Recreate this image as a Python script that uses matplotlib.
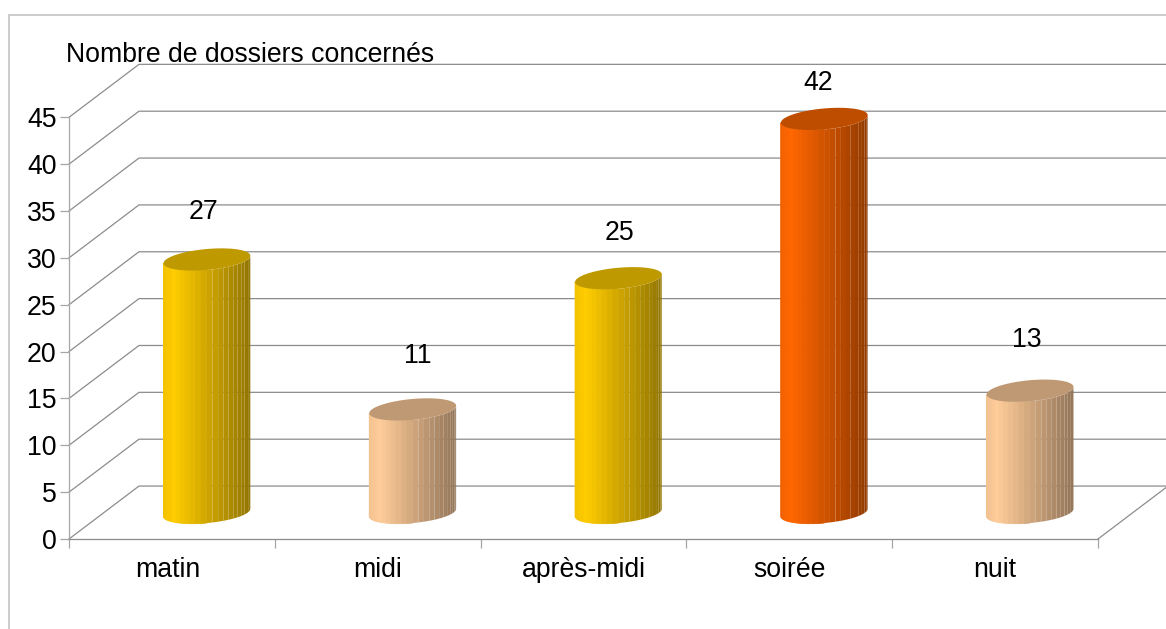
import matplotlib

matplotlib.use("Agg")
import matplotlib.pyplot as plt
from matplotlib.lines import Line2D
from matplotlib.transforms import ScaledTranslation
import numpy as np

W, H = 1166, 629

categories = ["matin", "midi", "après-midi", "soirée", "nuit"]
values = [27, 11, 25, 42, 13]
colors = ["#ffcc00", "#ffcc99", "#ffcc00", "#ff6600", "#ffcc99"]
y_ticks = [0, 5, 10, 15, 20, 25, 30, 35, 40, 45]
y_title = "Nombre de dossiers concernés"

# value label placement, pixels from the centre of the cylinder top
label_offsets = [(-3, 48), (5, 53), (1, 45), (-6, 36), (-3, 51)]

# fake 3d depth, in axis units
DEPTH_X = 0.34
DEPTH_Y = 5.65
# cylinder ellipse, in axis units
RADIUS = 0.211
MINOR = 1.12
SKEW = 0.4
N_STRIPS = 24
FONT = 19.2

GRID = "#8c8c8c"
AXIS = "#a6a6a6"

plt.rcParams["font.family"] = ["Liberation Sans", "DejaVu Sans"]


def ellipse(cx, cy, t):
    return cx + RADIUS * np.cos(t), cy + SKEW * np.cos(t) + MINOR * np.sin(t)


def shade(base, k):
    rgb = np.array(matplotlib.colors.to_rgb(base)) * k
    return tuple(rgb)


def draw_cylinder(ax, cx, base_y, value, color):
    top_y = base_y + value
    # body, strips around the front half
    edges = np.linspace(np.pi, 2 * np.pi, N_STRIPS + 1)
    for a, b in zip(edges[:-1], edges[1:]):
        ts = np.linspace(a, b, 6)
        xb, yb = ellipse(cx, base_y, ts)
        xt, yt = ellipse(cx, top_y, ts[::-1])
        pos = (np.cos((a + b) / 2) + 1) / 2
        k = np.interp(pos, [0, 0.13, 1], [0.95, 1.0, 0.57])
        # seams only show on the shaded side
        lw = 0.6 if pos < 0.5 else 0
        ax.fill(
            np.r_[xb, xt],
            np.r_[yb, yt],
            color=shade(color, k),
            lw=lw,
            zorder=3,
            clip_on=False,
        )
    # top cap
    ts = np.linspace(0, 2 * np.pi, 120)
    xt, yt = ellipse(cx, top_y, ts)
    ax.fill(xt, yt, color=shade(color, 0.75), lw=0, zorder=4, clip_on=False)


fig = plt.figure(figsize=(W / 100, H / 100), dpi=100)
ax = fig.add_axes(
    [69 / W, (H - 539) / H, 1029 / W, (539 - 117.3) / H], facecolor="none"
)
ax.set_xlim(0, len(categories))
ax.set_ylim(0, 45)

# outer chart frame, runs off the page on the right and bottom
fig.add_artist(Line2D([9 / W, 9 / W], [0, 1 - 14.5 / H], color="#cccccc", lw=1.4))
fig.add_artist(Line2D([9 / W, 1], [1 - 14.5 / H, 1 - 14.5 / H], color="#cccccc", lw=1.4))

# back wall and side wall lines
for v in y_ticks:
    ax.plot(
        [0, DEPTH_X, len(categories) + DEPTH_X],
        [v, v + DEPTH_Y, v + DEPTH_Y],
        color=GRID,
        lw=0.9,
        zorder=1,
        clip_on=False,
    )
# floor edge on the right
ax.plot(
    [len(categories), len(categories) + DEPTH_X],
    [0, DEPTH_Y],
    color=GRID,
    lw=0.9,
    zorder=1,
    clip_on=False,
)

for i, (val, col) in enumerate(zip(values, colors)):
    cx = i + 0.5 + DEPTH_X / 2
    base_y = DEPTH_Y / 2
    draw_cylinder(ax, cx, base_y, val, col)
    ax.annotate(
        str(val),
        (cx, base_y + val),
        xytext=(label_offsets[i][0] * 0.72, label_offsets[i][1] * 0.72),
        textcoords="offset points",
        ha="center",
        va="center",
        fontsize=FONT,
        color="black",
        zorder=5,
        annotation_clip=False,
    )

ax.spines["top"].set_visible(False)
ax.spines["right"].set_visible(False)
ax.spines["left"].set_color(AXIS)
ax.spines["bottom"].set_color(GRID)
ax.spines["left"].set_linewidth(0.9)
ax.spines["bottom"].set_linewidth(0.9)

ax.set_yticks(y_ticks)
ax.tick_params(axis="y", length=6.5, width=0.9, color=AXIS, labelsize=FONT, pad=2.5)
ax.set_xticks(range(len(categories) + 1))
ax.set_xticklabels([])
ax.tick_params(axis="x", which="major", length=6.5, width=0.9, color=AXIS)
ax.set_xticks(np.arange(len(categories)) + 0.5, minor=True)
ax.set_xticklabels(categories, minor=True)
ax.tick_params(axis="x", which="minor", length=0, labelsize=FONT, pad=13)

# first label sits a little left of its slot
first = ax.get_xticklabels(minor=True)[0]
first.set_transform(first.get_transform() + ScaledTranslation(-4 / 100, 0, fig.dpi_scale_trans))

fig.text(66 / W, 1 - 62 / H, y_title, fontsize=FONT, ha="left", va="baseline", color="black")

fig.savefig("out.png", dpi=100)
